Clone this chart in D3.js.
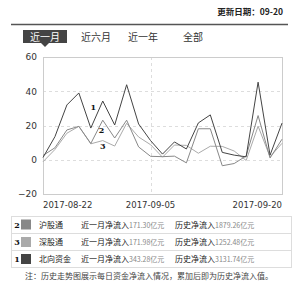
<!DOCTYPE html>
<html>
<head>
<meta charset="utf-8">
<script src="https://cdn.jsdelivr.net/npm/d3@7"></script>
<style>
  body { margin: 0; background: #fff; }
  svg { display: block; font-family: "Noto Sans CJK SC", "DejaVu Sans", sans-serif; }
</style>
</head>
<body>
<div id="chart"></div>
<script>
// trading days (08-23 market closed)
const dates = ["2017-08-22", "2017-08-24", "2017-08-25", "2017-08-28", "2017-08-29", "2017-08-30", "2017-08-31",
  "2017-09-01", "2017-09-04", "2017-09-05", "2017-09-06", "2017-09-07", "2017-09-08", "2017-09-11",
  "2017-09-12", "2017-09-13", "2017-09-14", "2017-09-15", "2017-09-18", "2017-09-19", "2017-09-20"];

// daily net inflow, 亿元
const northbound = [1.3, 13.5, 32, 39, 18.5, 34.3, 20.3, 43.8, 20.9, 11.2, 3.3, 10.4, 6.3, 21.5, 26.2, 4.3, 2.7, 1.7, 45.3, 2.7, 21.4];
const shanghai = [2.5, 7, 17.4, 19.5, 9.5, 23.1, 12.7, 23.1, 7.5, 2, 1.8, 2.1, -1.8, 18.1, 18.1, -3.5, -2.2, 2.2, 25.8, 1, 12];
const shenzhen = [-1.2, 6, 15.5, 19.5, 9.3, 11.2, 8, 21.3, 13.3, 8.8, 1.5, 8.6, 8.4, 3.8, 7.9, 7.8, 5.1, -0.4, 19.6, 1.7, 9.6];

const yTicks = [-20, 0, 20, 40, 60];
const xLabels = ["2017-08-22", "2017-09-05", "2017-09-20"];
const tabs = ["近一月", "近六月", "近一年", "全部"];

const legendNums = ["2", "3", "1"];
const legendNames = ["沪股通", "深股通", "北向资金"];
const monthFlow = ["171.30亿元", "171.98亿元", "343.28亿元"];
const histFlow = ["1879.26亿元", "1252.48亿元", "3131.74亿元"];

const width = 300, height = 289;

const svg = d3.select("#chart").append("svg")
    .attr("width", width)
    .attr("height", height);

// header
svg.append("text")
    .attr("x", 283).attr("y", 15)
    .attr("text-anchor", "end")
    .attr("font-size", "8.5px")
    .attr("font-weight", "bold")
    .attr("fill", "#222")
    .text("更新日期：09-20");

svg.append("line")
    .attr("x1", 11).attr("x2", 288)
    .attr("y1", 24.5).attr("y2", 24.5)
    .attr("stroke", "#555").attr("stroke-width", 1.5);

// tabs
const tabX = [45, 96, 143, 193];
svg.append("rect")
    .attr("x", 23).attr("y", 30)
    .attr("width", 44).attr("height", 13)
    .attr("fill", "#444");
svg.append("path")
    .attr("d", "M41,43 L49,43 L45,47 Z")
    .attr("fill", "#444");
svg.selectAll("text.tab")
    .data(tabs)
    .enter()
    .append("text")
    .attr("class", "tab")
    .attr("x", (d, i) => tabX[i])
    .attr("y", 40.5)
    .attr("text-anchor", "middle")
    .attr("font-size", "10px")
    .attr("fill", (d, i) => i === 0 ? "#fff" : "#333")
    .text(d => d);

// scales
const x0 = 43, x1 = 282;
const x = d3.scalePoint()
    .domain(dates)
    .range([x0, x1]);

const y = d3.scaleLinear()
    .domain([-20, 60])
    .range([194, 57]);

// grid
svg.selectAll("line.hgrid")
    .data([0, 20, 40])
    .enter()
    .append("line")
    .attr("class", "hgrid")
    .attr("x1", x0).attr("x2", x1)
    .attr("y1", d => Math.round(y(d)) + 0.5)
    .attr("y2", d => Math.round(y(d)) + 0.5)
    .attr("stroke", "#ddd")
    .attr("stroke-dasharray", "3,3");

svg.append("line")
    .attr("x1", Math.round(x("2017-09-05")) + 0.5)
    .attr("x2", Math.round(x("2017-09-05")) + 0.5)
    .attr("y1", y(60)).attr("y2", y(-20))
    .attr("stroke", "#ddd")
    .attr("stroke-dasharray", "3,3");

svg.append("rect")
    .attr("x", x0 + 0.5).attr("y", y(60) + 0.5)
    .attr("width", x1 - x0).attr("height", y(-20) - y(60))
    .attr("fill", "none")
    .attr("stroke", "#ccc");

// y axis
const yAxis = svg.append("g")
    .attr("transform", `translate(${x0},0)`)
    .call(d3.axisLeft(y).tickValues(yTicks).tickSize(0).tickPadding(6));
yAxis.select(".domain").remove();
yAxis.selectAll("text")
    .attr("font-size", "9px")
    .attr("font-family", "DejaVu Sans, sans-serif")
    .attr("fill", "#333");

// x labels
svg.selectAll("text.xlab")
    .data(xLabels)
    .enter()
    .append("text")
    .attr("class", "xlab")
    .attr("x", d => x(d))
    .attr("y", 208)
    .attr("text-anchor", (d, i) => i === 0 ? "start" : (i === xLabels.length - 1 ? "end" : "middle"))
    .attr("font-size", "8.5px")
    .attr("font-family", "DejaVu Sans, sans-serif")
    .attr("fill", "#333")
    .text(d => d);

// lines
const series = [
    { values: shenzhen, color: "#aaa" },
    { values: shanghai, color: "#888" },
    { values: northbound, color: "#444" }
];
const line = d3.line()
    .x((d, i) => x(dates[i]))
    .y(d => y(d));

svg.selectAll("path.series")
    .data(series)
    .enter()
    .append("path")
    .attr("class", "series")
    .attr("d", d => line(d.values))
    .attr("fill", "none")
    .attr("stroke", d => d.color)
    .attr("stroke-width", 1);

// series number tags
const tags = [
    { t: "1", xi: 4.2, v: 29 },
    { t: "2", xi: 4.9, v: 15.5 },
    { t: "3", xi: 5, v: 6.5 }
];
svg.selectAll("text.tag")
    .data(tags)
    .enter()
    .append("text")
    .attr("class", "tag")
    .attr("x", d => x0 + d.xi * x.step())
    .attr("y", d => y(d.v))
    .attr("font-size", "8px")
    .attr("font-weight", "bold")
    .attr("font-family", "DejaVu Serif, serif")
    .attr("fill", "#111")
    .attr("text-anchor", "middle")
    .text(d => d.t);

// legend table
const rowY = [216, 233.5, 250.5];
const rowH = 17;
const swatch = ["#888", "#aaa", "#444"];
svg.append("rect")
    .attr("x", 11.5).attr("y", 216.5)
    .attr("width", 280).attr("height", 51)
    .attr("fill", "none").attr("stroke", "#ddd");
svg.selectAll("line.rowsep")
    .data([233.5, 250.5])
    .enter()
    .append("line")
    .attr("class", "rowsep")
    .attr("x1", 11.5).attr("x2", 291.5)
    .attr("y1", d => d).attr("y2", d => d)
    .attr("stroke", "#ddd");

const rows = svg.selectAll("g.row")
    .data(legendNames)
    .enter()
    .append("g")
    .attr("class", "row")
    .attr("transform", (d, i) => `translate(0,${rowY[i] + rowH / 2})`);

rows.append("text")
    .attr("x", 17).attr("y", 3)
    .attr("text-anchor", "middle")
    .attr("font-size", "8px")
    .attr("font-weight", "bold")
    .attr("font-family", "DejaVu Serif, serif")
    .attr("fill", "#111")
    .text((d, i) => legendNums[i]);

rows.append("rect")
    .attr("x", 21).attr("y", -5)
    .attr("width", 10).attr("height", 10)
    .attr("fill", (d, i) => swatch[i]);

rows.append("text")
    .attr("x", 39).attr("y", 3)
    .attr("font-size", "8px")
    .attr("fill", "#222")
    .text(d => d);

const monthText = rows.append("text")
    .attr("x", 81).attr("y", 3)
    .attr("font-size", "8px")
    .attr("fill", "#222");
monthText.append("tspan").text("近一月净流入");
monthText.append("tspan")
    .attr("font-size", "7px").attr("fill", "#888")
    .text((d, i) => monthFlow[i]);

const histText = rows.append("text")
    .attr("x", 175).attr("y", 3)
    .attr("font-size", "8px")
    .attr("fill", "#222");
histText.append("tspan").text("历史净流入");
histText.append("tspan")
    .attr("font-size", "7px").attr("fill", "#888")
    .text((d, i) => histFlow[i]);

// footnote
svg.append("text")
    .attr("x", 25).attr("y", 279)
    .attr("font-size", "8px")
    .attr("fill", "#444")
    .text("注：历史走势图展示每日资金净流入情况，累加后即为历史净流入值。");
</script>
</body>
</html>
